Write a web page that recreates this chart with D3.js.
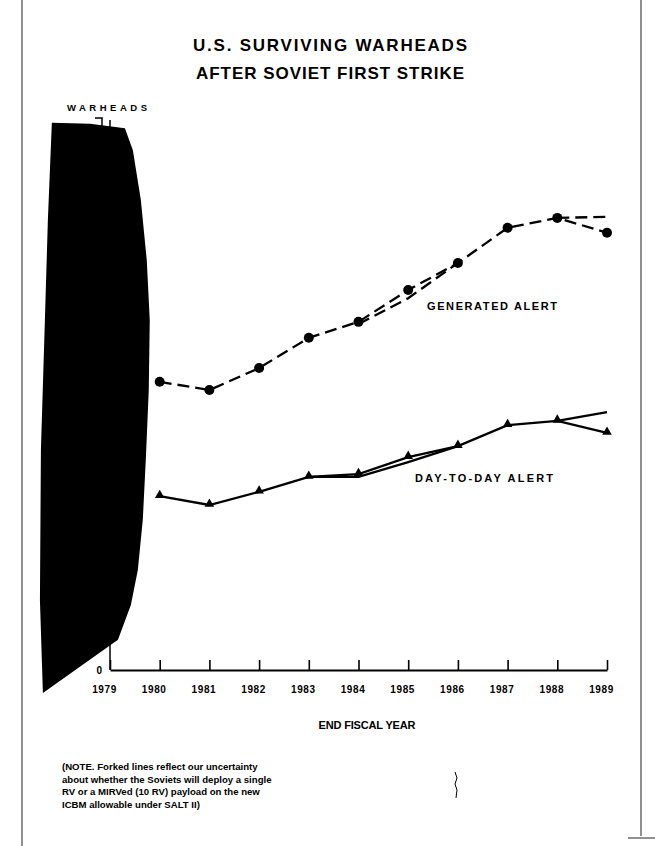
<!DOCTYPE html>
<html><head><meta charset="utf-8">
<script src="https://cdn.jsdelivr.net/npm/d3@7"></script>
<style>html,body{margin:0;padding:0;background:#fff;} svg{display:block;}</style>
</head><body><svg id="c" width="655" height="846"></svg>
<script>
// ---------- data (arbitrary warhead units, 0..100; true scale classified) ----------
const years = [1980, 1981, 1982, 1983, 1984, 1985, 1986, 1987, 1988, 1989];
const generatedAlert     = [52.4, 50.9, 54.9, 60.4, 63.3, 69.1, 74.0, 80.4, 82.2, 79.5];
const generatedAlertFork = [null, null, null, null, 62.9, 67.6, 74.0, null, 82.2, 82.4];
const dayToDayAlert      = [31.6, 30.0, 32.4, 35.1, 35.6, 38.7, 40.7, 44.5, 45.3, 43.1];
const dayToDayAlertFork  = [null, null, null, 35.1, 35.1, 37.8, 40.7, null, 45.3, 46.9];
const tickYears = [1979, 1980, 1981, 1982, 1983, 1984, 1985, 1986, 1987, 1988, 1989];
const titleLines = ["U.S. SURVIVING WARHEADS", "AFTER SOVIET FIRST STRIKE"];
const yAxisLabel = "WARHEADS";
const xAxisLabel = "END FISCAL YEAR";
const seriesLabels = ["GENERATED ALERT", "DAY-TO-DAY ALERT"];
const noteLines = [
  "(NOTE. Forked lines reflect our uncertainty",
  "about whether the Soviets will deploy a single",
  "RV or a MIRVed (10 RV) payload on the new",
  "ICBM allowable under SALT II)"
];
// redacted (blacked-out) y-axis region, outline in [year, value] units
const redaction = [
  [1977.83, 99.5], [1978.60, 99.3], [1979.30, 98.5], [1979.46, 94.5], [1979.62, 85.5],
  [1979.74, 74.5], [1979.80, 63.6], [1979.78, 50.9], [1979.72, 38.2], [1979.66, 27.3],
  [1979.56, 18.2], [1979.42, 11.8], [1979.16, 5.5], [1977.65, -4.2], [1977.59, 12.7],
  [1977.61, 40.0], [1977.69, 63.6], [1977.75, 81.8]
];

// ---------- drawing ----------
const svg = d3.select("#c");
const FONT = "'Liberation Sans', Arial, sans-serif";
const x = d3.scaleLinear().domain([1979, 1989]).range([110, 607]);
const y = d3.scaleLinear().domain([0, 100]).range([670, 120]);

// page frame (scan edges)
svg.append("line").attr("x1", 22).attr("x2", 22).attr("y1", 0).attr("y2", 846)
  .attr("stroke", "#222").attr("stroke-width", 1);
svg.append("line").attr("x1", 641).attr("x2", 641).attr("y1", 0).attr("y2", 836)
  .attr("stroke", "#222").attr("stroke-width", 1);
svg.append("line").attr("x1", 628).attr("x2", 655).attr("y1", 838).attr("y2", 838)
  .attr("stroke", "#222").attr("stroke-width", 1);

// title
const titleW = [274, 268];
svg.selectAll("text.title").data(titleLines).join("text")
  .attr("class", "title")
  .attr("x", 330).attr("y", (d, i) => 51 + i * 28)
  .attr("text-anchor", "middle")
  .attr("font-family", FONT).attr("font-weight", "bold").attr("font-size", 17)
  .attr("textLength", (d, i) => titleW[i]).attr("lengthAdjust", "spacing")
  .text(d => d);

// y axis (line + zero label)
svg.append("line")
  .attr("x1", x(1979)).attr("x2", x(1979)).attr("y1", y(0)).attr("y2", y(100))
  .attr("stroke", "#000").attr("stroke-width", 1.5);
svg.append("text").attr("x", x(1979) - 8).attr("y", y(0)).attr("dy", "0.35em")
  .attr("text-anchor", "end").attr("font-family", FONT).attr("font-weight", "bold")
  .attr("font-size", 10).text("0");

// x axis
const xAxis = d3.axisBottom(x).tickValues(tickYears).tickFormat(d3.format("d"))
  .tickSize(-10).tickSizeOuter(0).tickPadding(16);
const gx = svg.append("g").attr("transform", `translate(0,${y(0)})`).call(xAxis);
gx.select(".domain").attr("stroke", "#000").attr("stroke-width", 2.2);
gx.selectAll(".tick line").attr("stroke", "#000").attr("stroke-width", 1.6);
gx.selectAll(".tick text").attr("dx", -6).attr("fill", "#000")
  .attr("font-family", FONT).attr("font-weight", "bold").attr("font-size", 10)
  .attr("letter-spacing", 0.6);

// redaction block
svg.append("path")
  .attr("d", d3.line().x(d => x(d[0])).y(d => y(d[1])).curve(d3.curveLinearClosed)(redaction))
  .attr("fill", "#000");

// y axis label + cap
svg.append("text").attr("x", 107).attr("y", 111).attr("text-anchor", "middle")
  .attr("font-family", FONT).attr("font-weight", "bold").attr("font-size", 9.5)
  .attr("textLength", 80).attr("lengthAdjust", "spacing").text(yAxisLabel);
svg.append("path")
  .attr("d", `M${x(1979) - 15},${y(100) - 2}H${x(1979) - 8}V${y(100) + 6}`)
  .attr("fill", "none").attr("stroke", "#000").attr("stroke-width", 1.5);

// series
const rows = (vals) => years.map((yr, i) => ({ year: yr, v: vals[i] }));
const line = d3.line().defined(d => d.v != null).x(d => x(d.year)).y(d => y(d.v));

function drawSeries(main, fork, dashed) {
  [fork, main].forEach(vals => {
    svg.append("path").attr("d", line(rows(vals)))
      .attr("fill", "none").attr("stroke", "#000").attr("stroke-width", 2.3)
      .attr("stroke-dasharray", dashed ? "12,6" : null);
  });
}
drawSeries(generatedAlert, generatedAlertFork, true);
drawSeries(dayToDayAlert, dayToDayAlertFork, false);

svg.selectAll("circle.gen").data(rows(generatedAlert)).join("circle")
  .attr("class", "gen").attr("cx", d => x(d.year)).attr("cy", d => y(d.v))
  .attr("r", 5).attr("fill", "#000");

const tri = d3.symbol(d3.symbolTriangle).size(40);
svg.selectAll("path.dtd").data(rows(dayToDayAlert)).join("path")
  .attr("class", "dtd").attr("d", tri)
  .attr("transform", d => `translate(${x(d.year)},${y(d.v) - 1})`)
  .attr("fill", "#000");

// series labels
const labelPos = [{ end: 557, yb: 310, w: 130 }, { end: 553, yb: 482, w: 138 }];
svg.selectAll("text.slab").data(seriesLabels).join("text")
  .attr("class", "slab")
  .attr("x", (d, i) => labelPos[i].end - labelPos[i].w).attr("y", (d, i) => labelPos[i].yb)
  .attr("font-family", FONT).attr("font-weight", "bold").attr("font-size", 11)
  .attr("textLength", (d, i) => labelPos[i].w).attr("lengthAdjust", "spacing")
  .text(d => d);

// x axis title
svg.append("text").attr("x", 367).attr("y", 729).attr("text-anchor", "middle")
  .attr("font-family", FONT).attr("font-weight", "bold").attr("font-size", 11)
  .attr("textLength", 97).attr("lengthAdjust", "spacing").text(xAxisLabel);

// note
svg.selectAll("text.note").data(noteLines).join("text")
  .attr("class", "note")
  .attr("x", 62).attr("y", (d, i) => 770 + i * 12.5)
  .attr("font-family", FONT).attr("font-weight", "bold").attr("font-size", 9.6)
  .text(d => d);

// scan mark at lower right
svg.append("path").attr("d", "M455,772 l2,6 l-2,6 l2,6 l-1,8")
  .attr("fill", "none").attr("stroke", "#000").attr("stroke-width", 1);
</script>
</body></html>
